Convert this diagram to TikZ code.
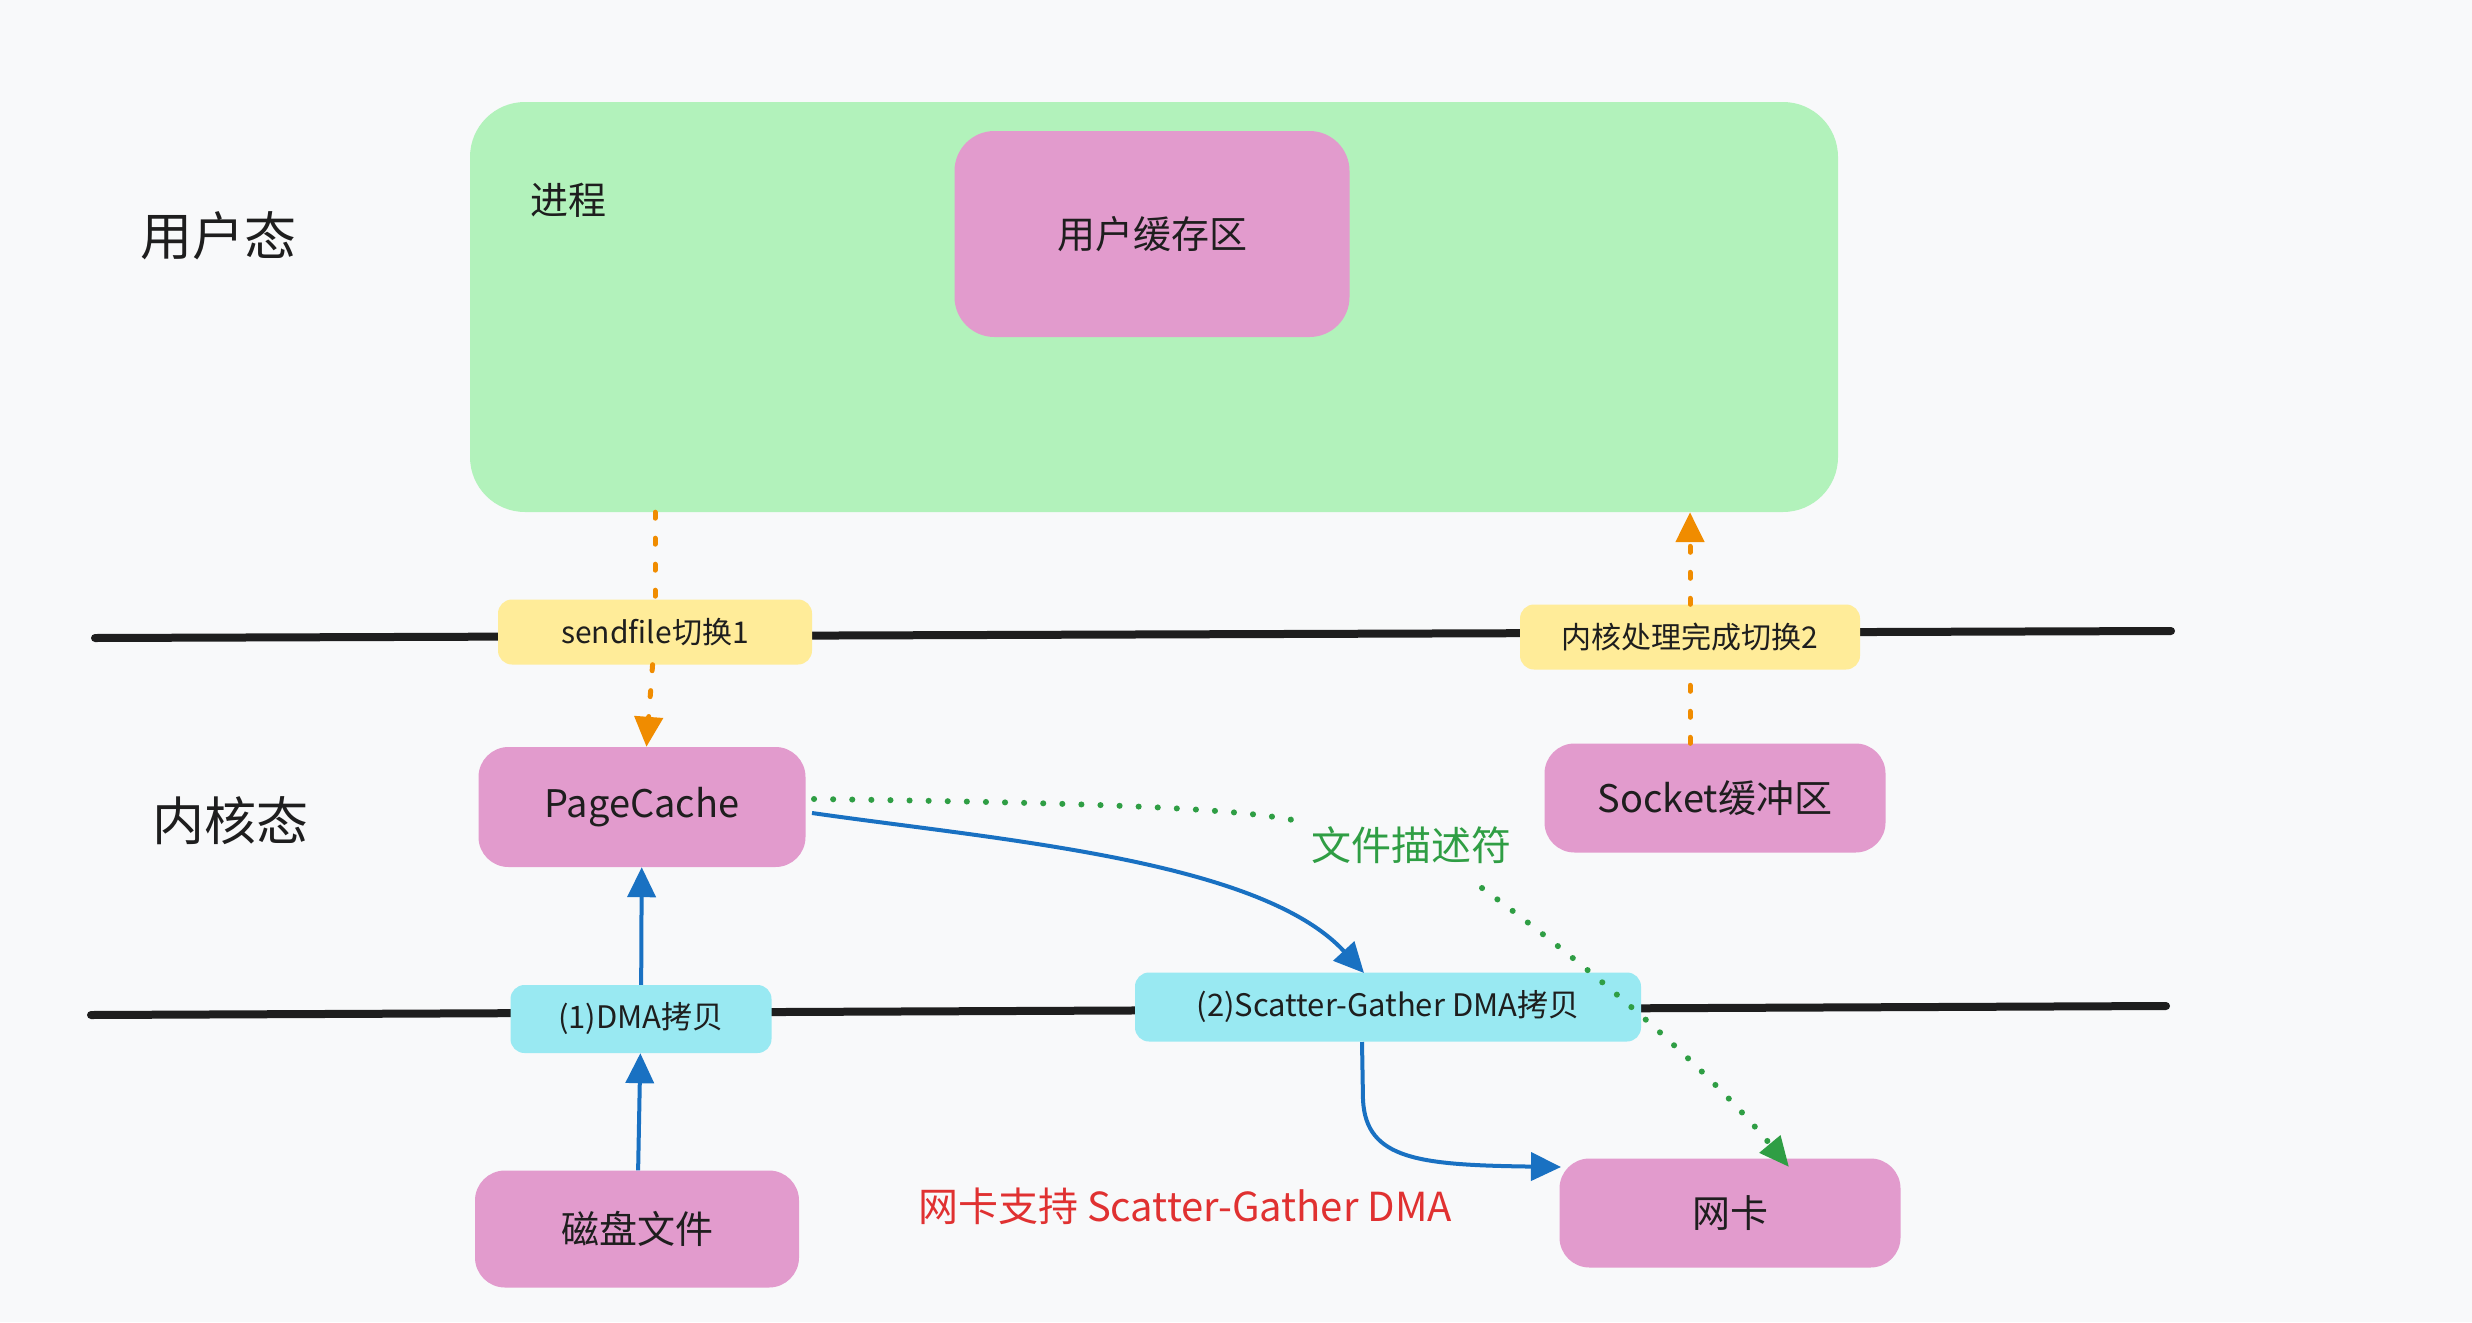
\documentclass[tikz,border=0pt]{standalone}
\usepackage{fontspec}
\setmainfont{Noto Sans CJK SC}
\usetikzlibrary{arrows.meta}
\definecolor{bgc}{HTML}{F8F9FA}
\definecolor{procg}{HTML}{B2F2BB}
\definecolor{pinkc}{HTML}{E29BCD}
\definecolor{yelc}{HTML}{FFEC99}
\definecolor{cyanc}{HTML}{99E9F2}
\definecolor{orc}{HTML}{F08C00}
\definecolor{bluc}{HTML}{1971C2}
\definecolor{grc}{HTML}{2F9E44}
\definecolor{redc}{HTML}{E03131}
\definecolor{inkc}{HTML}{1E1E1E}
\newcommand\myfs[1]{\fontsize{#1}{#1}\selectfont}
\begin{document}
\begin{tikzpicture}[x=1pt,y=-1pt,
  pinkbox/.style={fill=pinkc,rounded corners=30pt,inner sep=0pt,text=inkc,font=\myfs{38}},
  yelbox/.style={fill=yelc,rounded corners=14pt,inner sep=0pt,text=inkc,font=\myfs{30}},
  cyanbox/.style={fill=cyanc,rounded corners=14pt,inner sep=0pt,text=inkc,font=\myfs{31}},
  sepline/.style={draw=inkc,line width=8pt,line cap=round},
  odash/.style={draw=orc,line width=5pt,line cap=round,dash pattern=on 6pt off 20pt},
  oarrow/.style={odash,-{Triangle[length=30pt,width=28pt]},orc},
  barrow/.style={draw=bluc,line width=4pt,-{Triangle[length=30pt,width=28pt]}},
  gdot/.style={draw=grc,line width=6pt,line cap=round,dash pattern=on 0.1pt off 19pt},
  lbl/.style={inner sep=0pt,text=inkc}
]
\fill[bgc] (0,0) rectangle (2472,1322);
\useasboundingbox (0,0) rectangle (2472,1322);

% separator lines
\coordinate (l1a) at (95,638);
\coordinate (l1b) at (2171,631);
\coordinate (l2a) at (91,1015);
\coordinate (l2b) at (2166,1006);
\draw[sepline] (l1a) -- (l1b);
\draw[sepline] (l2a) -- (l2b);

% labels
\node[lbl,font=\myfs{52}] (us) at (218,236) {用户态};
\node[lbl,font=\myfs{52}] (ks) at (230,821) {内核态};

% process box
\node[fill=procg,rounded corners=55pt,minimum width=1368pt,minimum height=410pt,inner sep=0pt] (proc) at (1154,307) {};
\node[lbl,font=\myfs{38}] (proct) at (568,200) {进程};
\node[pinkbox,rounded corners=40pt,minimum width=395pt,minimum height=206pt] (ubuf) at (1152,234) {用户缓存区};

% switch labels
\node[yelbox,minimum width=314pt,minimum height=65pt] (sf) at (655,632) {sendfile切换1};
\node[yelbox,minimum width=340pt,minimum height=65pt] (k2) at (1690,637) {内核处理完成切换2};

% kernel boxes
\node[pinkbox,minimum width=327pt,minimum height=120pt] (pc) at (642,807) {PageCache};
\node[pinkbox,minimum width=341pt,minimum height=109pt] (sock) at (1715,798) {Socket缓冲区};
\node[cyanbox,minimum width=261pt,minimum height=68pt] (dma1) at (641,1019) {(1)DMA拷贝};
\node[cyanbox,minimum width=506pt,minimum height=69pt] (sg) at (1388,1007) {(2)Scatter-Gather DMA拷贝};
\node[pinkbox,minimum width=324pt,minimum height=117pt] (disk) at (637,1229) {磁盘文件};
\node[pinkbox,minimum width=341pt,minimum height=109pt] (nic) at (1730,1213) {网卡};

% annotations
\node[inner sep=0pt,text=grc,font=\myfs{40}] (fd) at (1411,845) {文件描述符};
\node[inner sep=0pt,text=redc,font=\myfs{40}] (sgnote) at (1185,1206) {网卡支持 Scatter-Gather DMA};

% orange switches
\draw[odash] (proc.south -| sf) -- (sf);
\draw[oarrow] (sf) -- (pc);
\draw[odash] (sock.north -| k2) -- (k2);
\draw[oarrow] (k2) -- (proc.south -| k2);

% blue copies
\draw[barrow] (disk) -- (dma1);
\draw[barrow] (dma1) -- (pc);
\coordinate (pcE) at (812,813);
\coordinate (sgN) at (1364,973);
\draw[barrow] (pcE) .. controls (1000,840) and (1260,860) .. (sgN);
\coordinate (sgS) at (1362,1042);
\coordinate (nicW) at (1561,1167);
\draw[barrow] (sgS) -- (1363,1100) .. controls (1366,1160) and (1420,1165) .. (nicW);

% green descriptor
\coordinate (pcE2) at (814,799);
\coordinate (fdA) at (1293,820);
\coordinate (fdB) at (1482,888);
\coordinate (nicN) at (1789,1167);
\draw[gdot] (pcE2) .. controls (1100,803) and (1230,808) .. (fdA);
\draw[gdot,-{Triangle[length=30pt,width=26pt]},grc] (fdB) .. controls (1580,960) and (1700,1060) .. (nicN);
\end{tikzpicture}
\end{document}
